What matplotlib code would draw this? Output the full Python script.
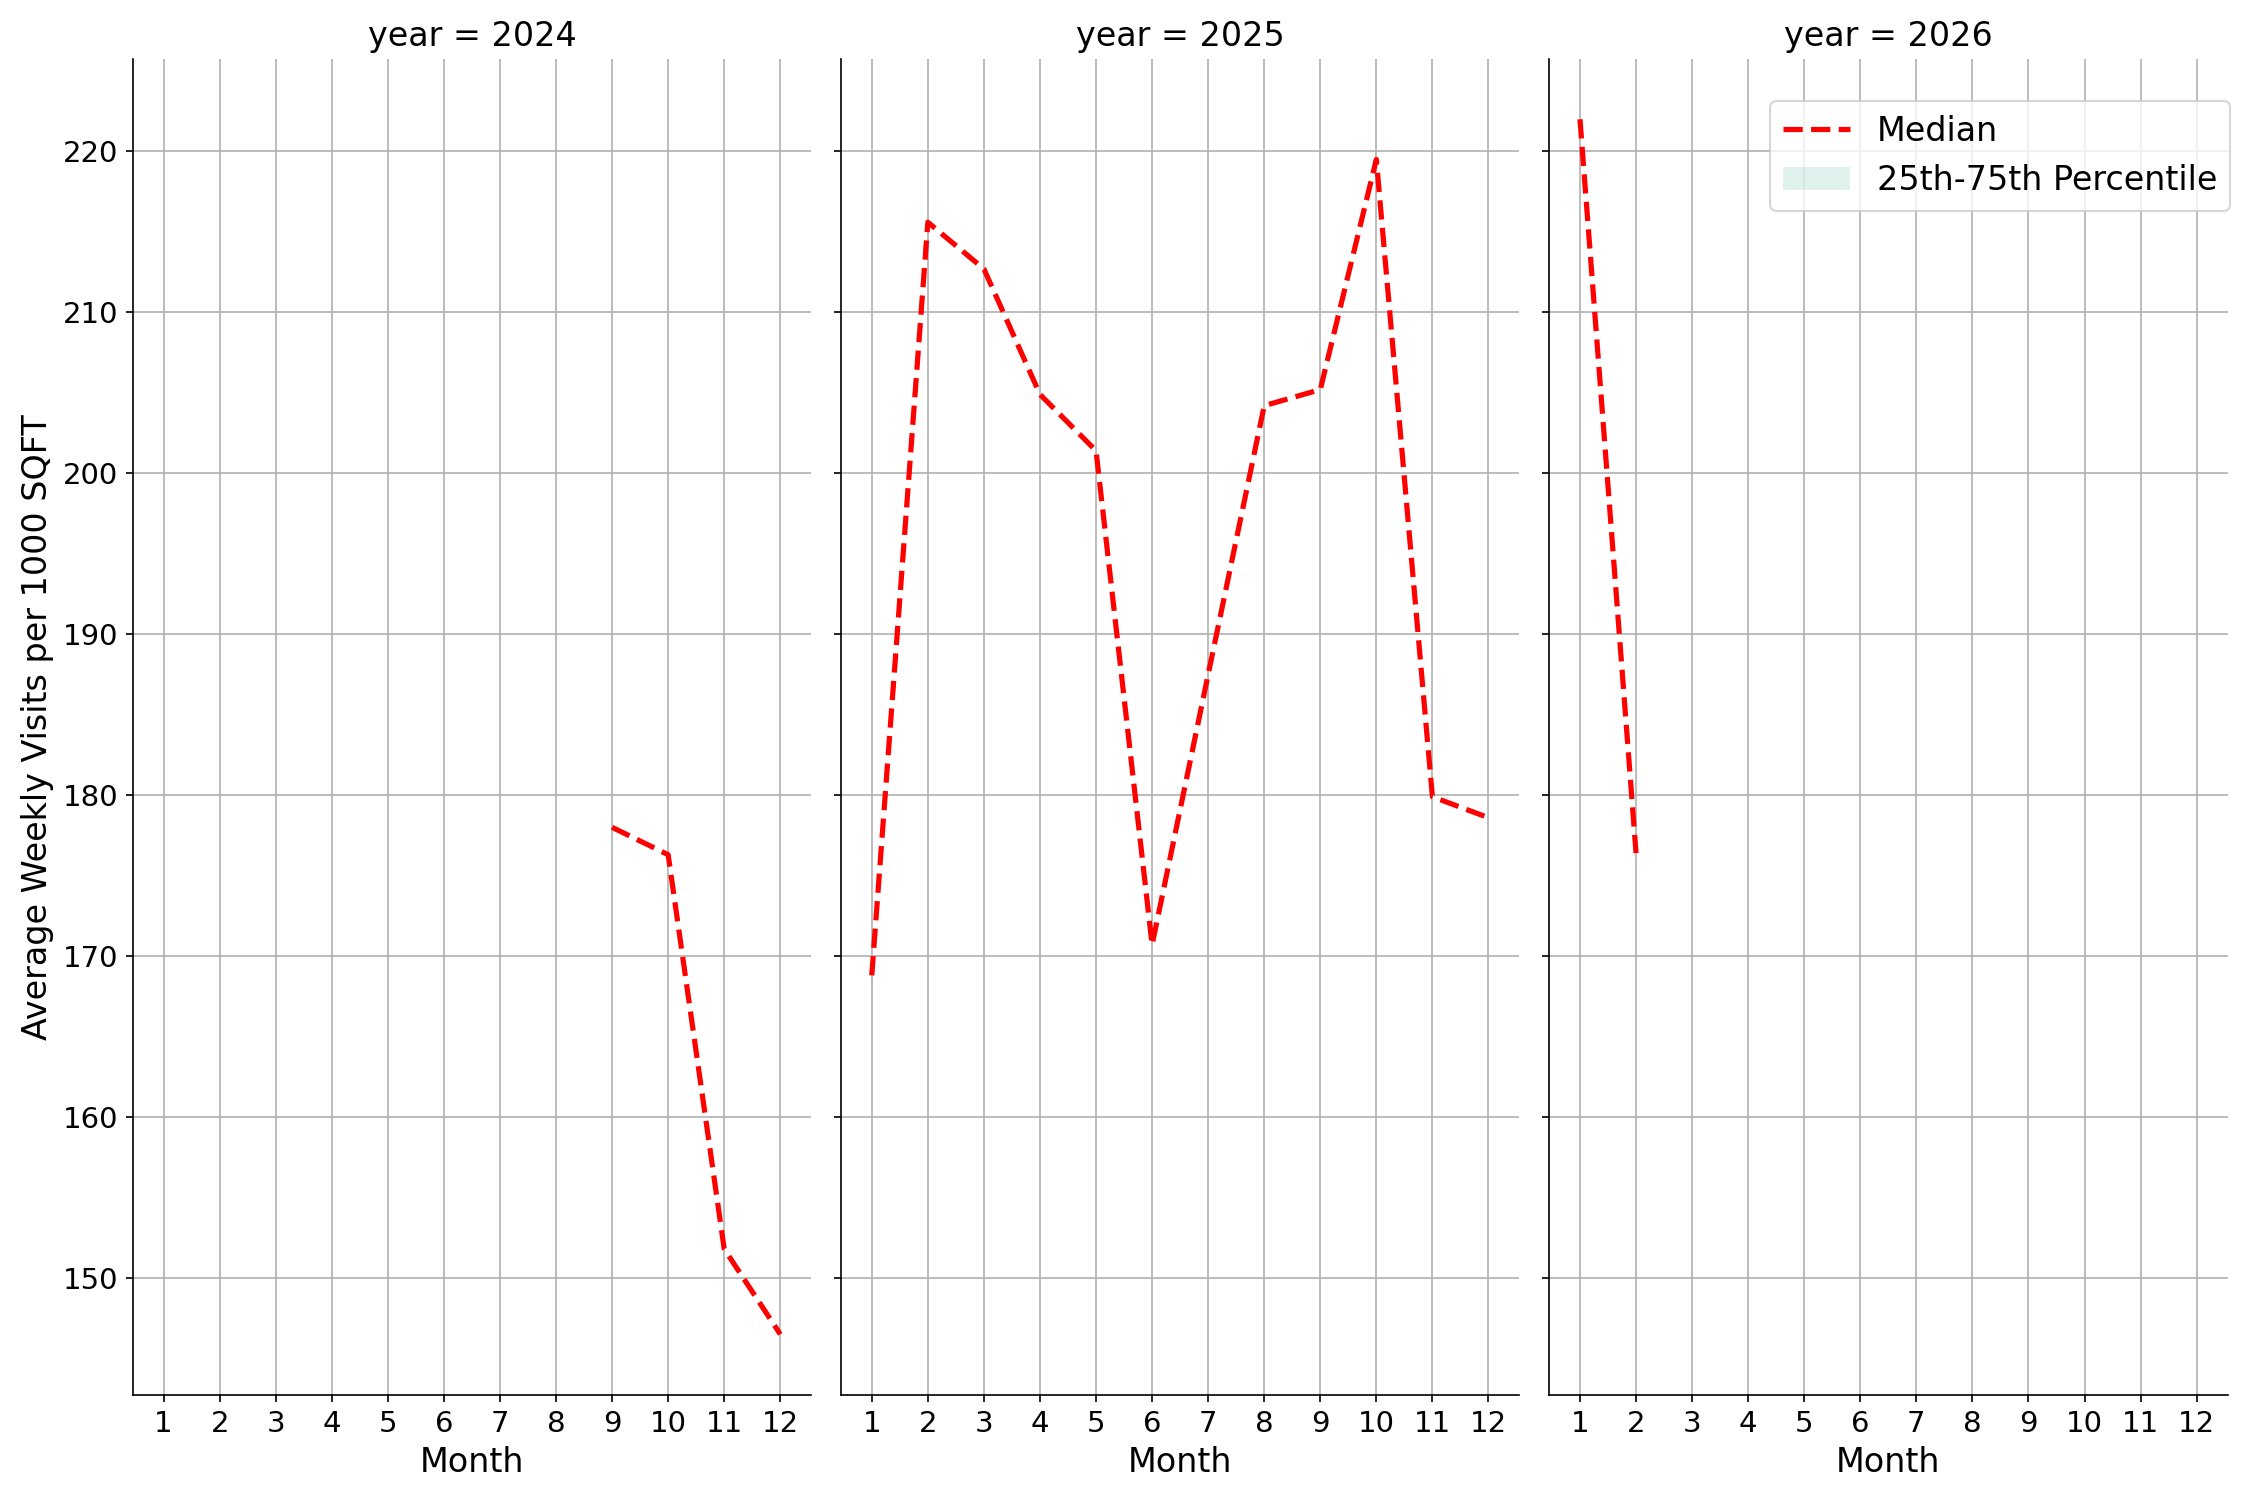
import matplotlib
matplotlib.use('Agg')
import matplotlib.pyplot as plt
import matplotlib.patches as mpatches

# median weekly visits per 1000 sqft, read per month for each year
years = [2024, 2025, 2026]
months_2024 = [9, 10, 11, 12]
median_2024 = [178.0, 176.3, 151.8, 146.5]
months_2025 = [1, 2, 3, 4, 5, 6, 7, 8, 9, 10, 11, 12]
median_2025 = [168.8, 215.6, 212.7, 204.9, 201.4, 170.7, 187.5, 204.2, 205.2, 219.5, 179.9, 178.6]
months_2026 = [1, 2]
median_2026 = [222.0, 176.4]
month_ticks = list(range(1, 13))

series = {
    2024: (months_2024, median_2024),
    2025: (months_2025, median_2025),
    2026: (months_2026, median_2026),
}

fig, axes = plt.subplots(1, 3, figsize=(15, 10), dpi=150, sharey=True)
fig.subplots_adjust(left=0.059, right=0.99, top=0.961, bottom=0.07, wspace=0.044)

for ax, year in zip(axes, years):
    x, y = series[year]
    ax.plot(x, y, color='red', linestyle='--', linewidth=2.5, label='Median')
    ax.set_title(f'year = {year}', fontsize=16)
    ax.set_xticks(month_ticks)
    ax.set_xlim(0.45, 12.55)
    ax.set_xlabel('Month', fontsize=16)
    ax.tick_params(labelsize=14)
    ax.grid(True)
    ax.spines['top'].set_visible(False)
    ax.spines['right'].set_visible(False)

axes[0].set_ylabel('Average Weekly Visits per 1000 SQFT', fontsize=16)

handles = [
    plt.Line2D([], [], color='red', linestyle='--', linewidth=2.5),
    mpatches.Patch(facecolor='#66c2a5', alpha=0.2, edgecolor='none'),
]
axes[2].legend(handles, ['Median', '25th-75th Percentile'], loc='upper right',
               bbox_to_anchor=(1.004, 0.968), borderaxespad=0, fontsize=16)

fig.savefig('out.png')
